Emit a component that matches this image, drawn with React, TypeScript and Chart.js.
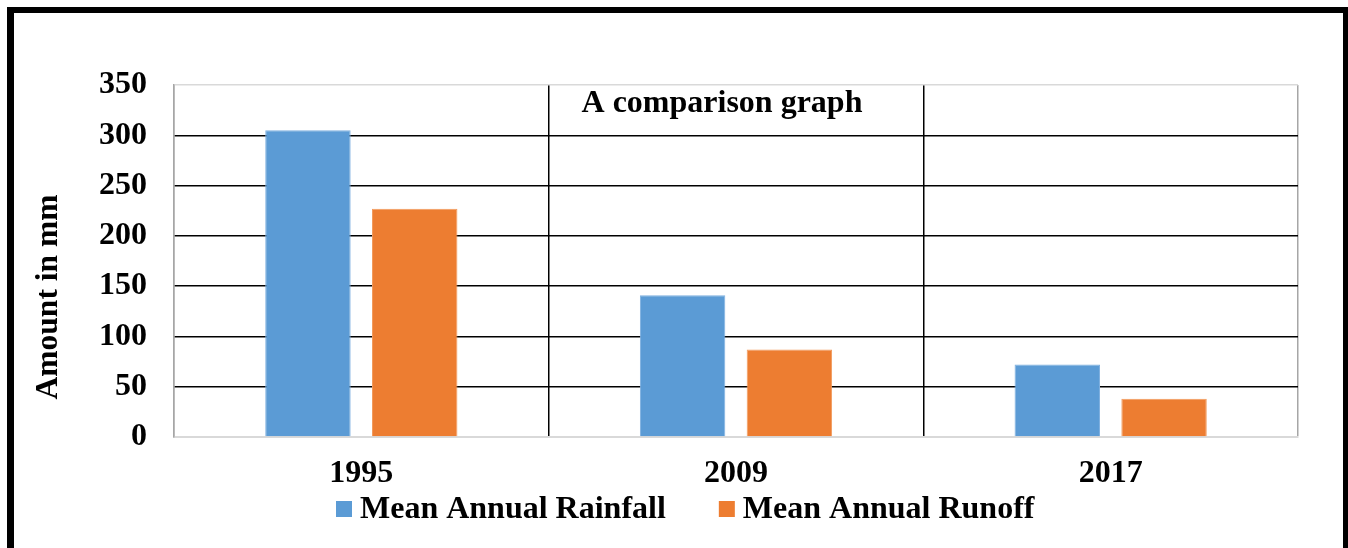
import React, { useEffect, useRef } from "react";
import { Chart, registerables } from "chart.js";

Chart.register(...registerables);

// Years on the category axis
const years = ["1995", "2009", "2017"];
// Mean annual rainfall per year (mm)
const rainfall = [305, 141, 72];
// Mean annual runoff per year (mm)
const runoff = [227, 87, 38];
// Value axis range
const yMin = 0;
const yMax = 350;
const yStep = 50;

const seriesNames = ["Mean Annual Rainfall", "Mean Annual Runoff"];
const seriesColors = ["#5B9BD5", "#ED7D31"];
const seriesEdges = ["#7eb0e0", "#f29a5c"];

const chartTitle = "A comparison graph";
const yTitle = "Amount in mm";

const FONT = "'Liberation Serif', 'Times New Roman', serif";

// Draws the in-plot heading, the rotated value-axis title and the legend row.
const textPlugin = {
  id: "textDecor",
  afterDraw(chart: any) {
    const { ctx, chartArea } = chart;
    ctx.save();
    ctx.fillStyle = "#000";
    ctx.font = `bold 32px ${FONT}`;
    ctx.textBaseline = "middle";

    // heading inside the plot
    ctx.textAlign = "center";
    ctx.fillText(chartTitle, chartArea.left + 548, chartArea.top + 19);

    // value-axis title
    ctx.save();
    ctx.translate(chartArea.left - 125, chartArea.top + 212);
    ctx.rotate(-Math.PI / 2);
    ctx.font = `bold 31.5px ${FONT}`;
    ctx.textAlign = "center";
    ctx.fillText(yTitle, 0, 0);
    ctx.restore();

    // legend
    ctx.textAlign = "left";
    const box = 16;
    const gap = 8;
    const itemGap = 53;
    let x = chartArea.left + 162;
    const cy = chartArea.bottom + 72;
    chart.data.datasets.forEach((ds: any) => {
      ctx.fillStyle = ds.backgroundColor;
      ctx.fillRect(x, cy - box / 2, box, box);
      ctx.fillStyle = "#000";
      ctx.fillText(ds.label, x + box + gap, cy + 1);
      x += box + gap + ctx.measureText(ds.label).width + itemGap;
    });
    ctx.restore();
  },
};

export default function App() {
  const canvasRef = useRef<HTMLCanvasElement | null>(null);

  useEffect(() => {
    if (!canvasRef.current) return;
    const lightGrey = "#d9d9d9";
    const edgeGrey = "#a6a6a6";
    const chart = new Chart(canvasRef.current, {
      type: "bar",
      data: {
        labels: years,
        datasets: [
          {
            label: seriesNames[0],
            data: rainfall,
            backgroundColor: seriesColors[0],
            borderColor: seriesEdges[0],
            borderWidth: 1,
          },
          {
            label: seriesNames[1],
            data: runoff,
            backgroundColor: seriesColors[1],
            borderColor: seriesEdges[1],
            borderWidth: 1,
          },
        ],
      },
      plugins: [textPlugin],
      options: {
        animation: false,
        responsive: true,
        maintainAspectRatio: false,
        datasets: {
          bar: { categoryPercentage: 0.57, barPercentage: 0.8 },
        },
        layout: { padding: { top: 85, right: 50, left: 0, bottom: 61 } },
        plugins: {
          legend: { display: false },
          title: { display: false },
          tooltip: { enabled: false },
        },
        scales: {
          x: {
            afterFit: (s: any) => {
              s.height = 50;
            },
            grid: {
              offset: true,
              drawTicks: false,
              lineWidth: 1.5,
              color: (c: any) =>
                c.type !== "tick" || c.index === 0 ? edgeGrey : "#000",
            },
            border: { display: true, color: lightGrey, width: 2 },
            ticks: {
              color: "#000",
              padding: 18,
              font: { family: FONT, size: 32, weight: "bold" },
            },
          },
          y: {
            min: yMin,
            max: yMax,
            afterFit: (s: any) => {
              s.width = 174;
            },
            grid: {
              drawTicks: false,
              lineWidth: 1.5,
              color: (c: any) =>
                c.tick && (c.tick.value === yMin || c.tick.value === yMax)
                  ? lightGrey
                  : "#000",
            },
            border: { display: true, color: edgeGrey, width: 1.5 },
            ticks: {
              stepSize: yStep,
              color: "#000",
              padding: 27,
              font: { family: FONT, size: 32, weight: "bold" },
            },
          },
        },
      },
    });
    return () => chart.destroy();
  }, []);

  return (
    <div
      style={{
        position: "absolute",
        left: 0,
        top: 0,
        width: 1348,
        height: 548,
        background: "#fff",
        overflow: "hidden",
      }}
    >
      <div style={{ position: "absolute", left: 0, top: 0, width: 1348, height: 548 }}>
        <canvas ref={canvasRef} />
      </div>
      <div
        style={{
          position: "absolute",
          left: 7,
          top: 7,
          width: 1342,
          height: 600,
          boxSizing: "border-box",
          borderStyle: "solid",
          borderColor: "#000",
          borderWidth: "6px 6px 6px 7px",
          pointerEvents: "none",
        }}
      />
    </div>
  );
}
